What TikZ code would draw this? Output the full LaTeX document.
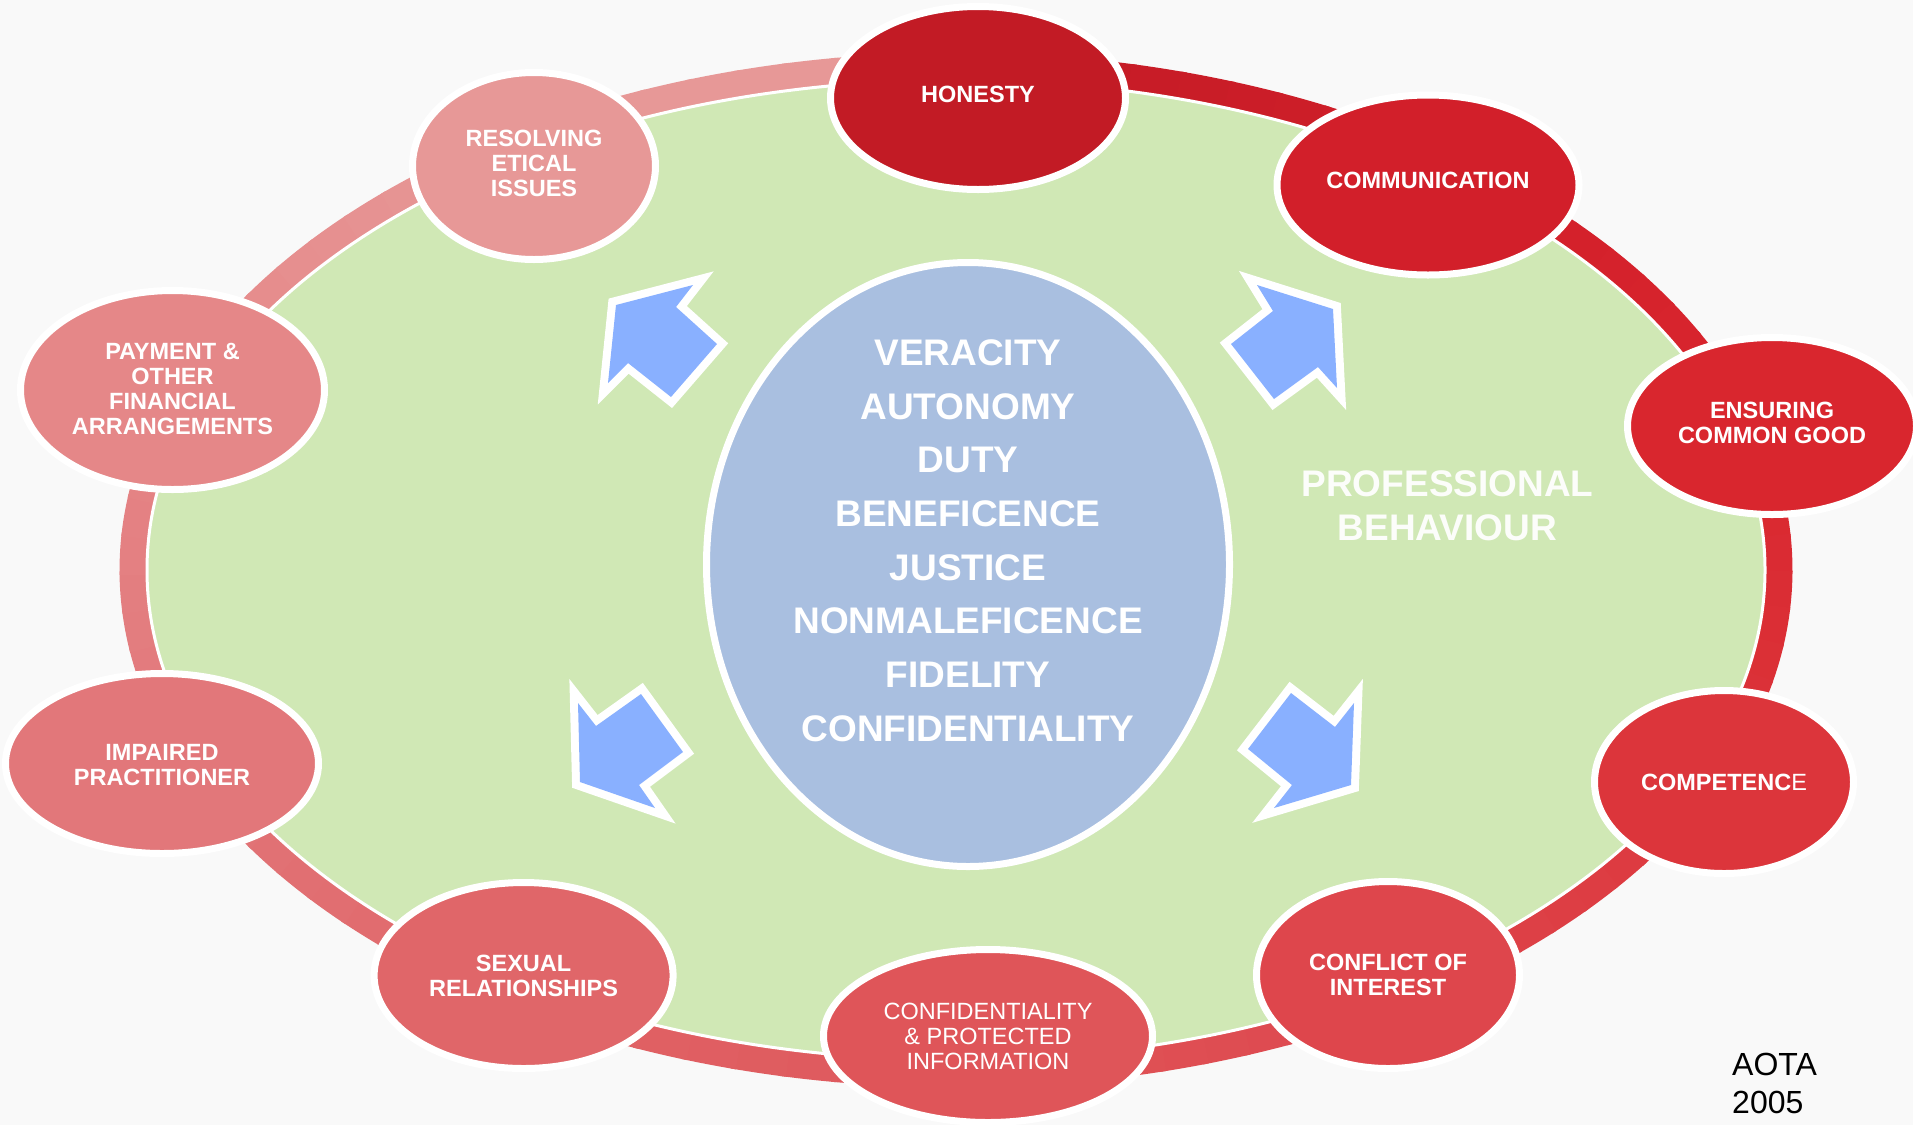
\documentclass[tikz,border=0pt]{standalone}
\usepackage{fontspec}
\setmainfont{Liberation Sans}
\usetikzlibrary{shapes.geometric}
\definecolor{bgc}{RGB}{249,249,249}
\definecolor{greenc}{RGB}{208,232,181}
\definecolor{bluec}{RGB}{169,191,224}
\definecolor{arrowblue}{RGB}{137,176,255}
\definecolor{profc}{RGB}{252,253,250}
\definecolor{c0}{RGB}{194,27,37}
\definecolor{c1}{RGB}{210,31,42}
\definecolor{c2}{RGB}{217,38,46}
\definecolor{c3}{RGB}{220,53,59}
\definecolor{c4}{RGB}{222,70,76}
\definecolor{c5}{RGB}{223,85,89}
\definecolor{c6}{RGB}{224,102,105}
\definecolor{c7}{RGB}{226,119,122}
\definecolor{c8}{RGB}{229,135,136}
\definecolor{c9}{RGB}{231,152,151}
\begin{document}
\begin{tikzpicture}[x=1pt,y=-1pt,
  bubble/.style={ellipse, draw=white, line width=7, inner sep=0},
  btext/.style={inner sep=0, text=white, align=center, font=\bfseries\fontsize{23.5}{25}\selectfont},
  barrow/.style={fill=arrowblue, preaction={draw=white, line width=16, line join=miter}},
  ringseg/.style={line width=27}]
\useasboundingbox (0,0) rectangle (1913,1125);
\fill[bgc] (0,0) rectangle (1913,1125);
% ring with colour gradient
\foreach \ta/\tb/\ca/\cb in {-88.4/-53.1/c0/c1, -53.1/-16.1/c1/c2, -16.1/24.3/c2/c3,
  24.3/57/c3/c4, 57/87.6/c4/c5, 87.6/123.1/c5/c6, 123.1/158.3/c6/c7,
  158.3/200.6/c7/c8, 200.6/237.4/c8/c9, 237.4/271.6/c9/c9}{
  \foreach \k in {0,...,9}{
    \pgfmathsetmacro\sa{\ta+(\tb-\ta)*\k/10}
    \pgfmathsetmacro\sb{\ta+(\tb-\ta)*(\k+1)/10+0.4}
    \pgfmathsetmacro\mix{95-10*\k}
    \draw[ringseg, draw=\ca!\mix!\cb] (956,570) ++(\sa:823 and 504)
      arc[start angle=\sa, end angle=\sb, x radius=823, y radius=504];
  }
}
\fill[greenc, draw=white, line width=3] (956,570) ellipse [x radius=809, y radius=490];
% arrows
\path[barrow] (616,305) -- (693,285) -- (676,307) -- (717,344) -- (671,397) -- (628,363) -- (608,383) -- cycle;
\path[barrow] (1333,309) -- (1337,388) -- (1318,367) -- (1274,399) -- (1231,344) -- (1273,311) -- (1257,285) -- cycle;
\path[barrow] (578,703) -- (580,782) -- (655,808) -- (639,785) -- (683,752) -- (641,694) -- (596,726) -- cycle;
\path[barrow] (1291,693) -- (1335,727) -- (1354,703) -- (1351,785) -- (1274,808) -- (1292,785) -- (1248,749) -- cycle;
% centre
\node[ellipse, fill=bluec, draw=white, line width=7, minimum width=523, minimum height=604, inner sep=0] (core) at (968,564.5) {};
\node[text=white, align=center, inner sep=0, font=\bfseries\fontsize{37}{53.7}\selectfont] (values) at (968,540.5)
  {VERACITY\\AUTONOMY\\DUTY\\BENEFICENCE\\JUSTICE\\NONMALEFICENCE\\FIDELITY\\CONFIDENTIALITY};
\node[text=profc, align=center, inner sep=0, font=\bfseries\fontsize{37}{44.5}\selectfont] (prof) at (1447.5,506)
  {PROFESSIONAL\\BEHAVIOUR};
% bubbles
\node[bubble, fill=c0, minimum width=295, minimum height=183] (honesty) at (978,98) {};
\node[btext] (honesty-t) at ([yshift=4pt]honesty.center) {HONESTY};
\node[bubble, fill=c1, minimum width=302, minimum height=180] (comm) at (1428,185) {};
\node[btext] (comm-t) at ([yshift=4.5pt]comm.center) {COMMUNICATION};
\node[bubble, fill=c2, minimum width=289, minimum height=177] (common) at (1772,426) {};
\node[btext] (common-t) at ([yshift=3.5pt]common.center) {ENSURING\\COMMON GOOD};
\node[bubble, fill=c3, minimum width=259, minimum height=183] (compet) at (1724,782) {};
\node[btext] (compet-t) at (compet.center) {COMPETENC{\mdseries E}};
\node[bubble, fill=c4, minimum width=263, minimum height=187] (conflict) at (1388,975) {};
\node[btext] (conflict-t) at ([yshift=0.5pt]conflict.center) {CONFLICT OF\\INTEREST};
\node[bubble, fill=c5, minimum width=329, minimum height=173] (confid) at (988,1036) {};
\node[btext, font=\mdseries\fontsize{23.5}{25}\selectfont] (confid-t) at (confid.center) {CONFIDENTIALITY\\\& PROTECTED\\INFORMATION};
\node[bubble, fill=c6, minimum width=299, minimum height=186] (sexual) at (523.6,975.5) {};
\node[btext] (sexual-t) at (sexual.center) {SEXUAL\\RELATIONSHIPS};
\node[bubble, fill=c7, minimum width=313, minimum height=180] (impaired) at (162,763.5) {};
\node[btext] (impaired-t) at ([yshift=-2pt]impaired.center) {IMPAIRED\\PRACTITIONER};
\node[bubble, fill=c8, minimum width=304, minimum height=199] (payment) at (172.5,390) {};
\node[btext] (payment-t) at ([yshift=1pt]payment.center) {PAYMENT \&\\OTHER\\FINANCIAL\\ARRANGEMENTS};
\node[bubble, fill=c9, minimum width=243, minimum height=187] (resolving) at (534,166) {};
\node[btext] (resolving-t) at ([yshift=3pt]resolving.center) {RESOLVING\\ETICAL\\ISSUES};
% source
\node[anchor=north west, inner sep=0, align=left, font=\fontsize{32}{38}\selectfont] (aota) at (1732,1053) {AOTA\\2005};
\end{tikzpicture}
\end{document}
